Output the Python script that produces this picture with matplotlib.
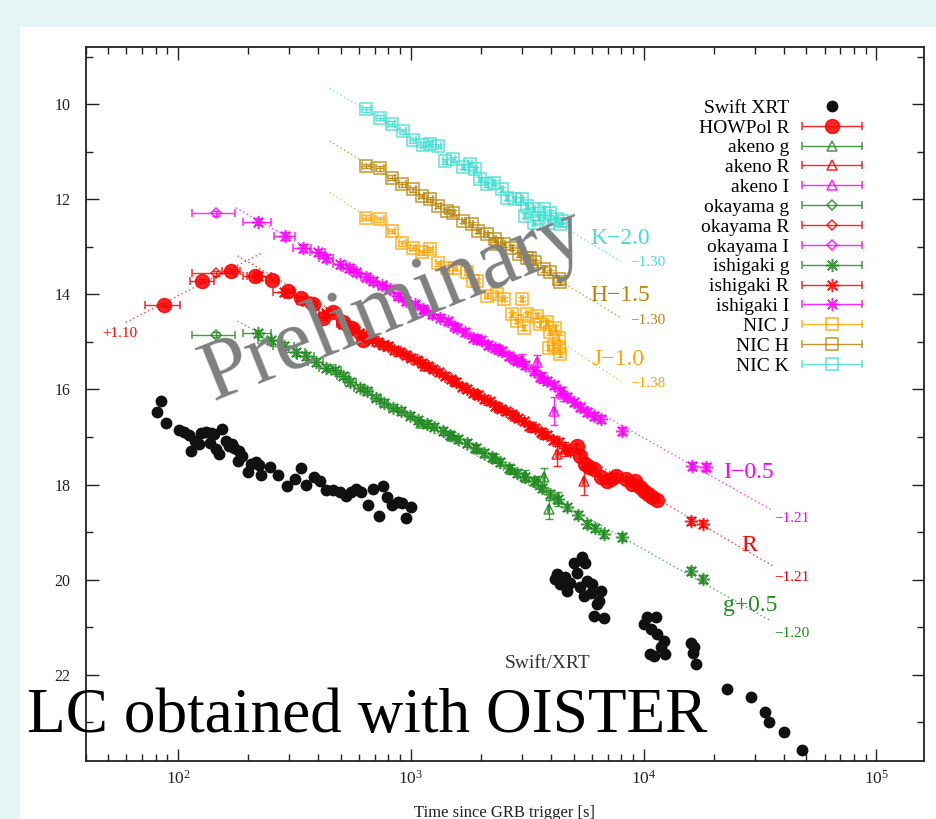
import matplotlib
matplotlib.use('Agg')
import matplotlib.pyplot as plt
import matplotlib.ticker as mticker
from matplotlib.patches import Rectangle
from matplotlib.legend_handler import HandlerErrorbar
from matplotlib.container import ErrorbarContainer

plt.rcParams['font.family'] = ['Liberation Serif', 'DejaVu Serif']
plt.rcParams['mathtext.fontset'] = 'stix'

# ---------------- data (time since trigger [s], magnitude) ----------------
xrt_t = [81.5, 84.8, 88.5, 101, 106, 111, 114, 118, 123, 125, 132, 138, 142, 137, 145, 150, 154, 161,
         166, 170, 174, 183, 180, 189, 199, 206, 216, 223, 227, 248, 268, 294, 319, 338, 355, 382, 408,
         433, 463, 494, 525, 555, 583, 613, 655, 684, 730, 755, 791, 826, 882, 912, 951, 1000,
         5445, 5012, 5623, 4246, 4613, 5176, 4385, 4842, 5716, 5346, 6012, 6535, 5534, 6310, 6109,
         6745, 4178, 4690, 5916, 6450,
         10375, 11272, 10020, 10715, 11455, 12240, 11840, 10650, 12300, 11060, 15960, 16490, 16220, 16760,
         22800, 28900, 33250, 34600, 40100, 47950]
xrt_m = [16.47, 16.24, 16.70, 16.86, 16.90, 16.95, 17.30, 17.08, 17.15, 16.92, 16.90, 16.92, 16.94, 17.13,
         17.25, 17.35, 16.83, 17.08, 17.18, 17.15, 17.22, 17.29, 17.50, 17.39, 17.74, 17.57, 17.52, 17.59,
         17.79, 17.63, 17.80, 18.03, 17.88, 17.65, 18.01, 17.85, 17.92, 18.11, 18.12, 18.16, 18.23, 18.15,
         18.09, 18.16, 18.42, 18.09, 18.67, 18.03, 18.27, 18.42, 18.37, 18.39, 18.71, 18.48,
         19.53, 19.64, 19.64, 19.88, 19.95, 19.85, 20.09, 20.06, 20.02, 20.16, 20.09, 20.23, 20.34, 20.51,
         20.76, 20.80, 19.99, 20.23, 20.27, 20.44,
         20.79, 20.79, 20.93, 21.04, 21.14, 21.28, 21.42, 21.56, 21.56, 21.60, 21.32, 21.42, 21.53, 21.77,
         22.29, 22.46, 22.77, 23.00, 23.21, 23.57]

howpol_R_t = [87.3, 127, 169, 213, 253, 296, 338, 379, 419, 463, 511, 560, 622,
              5180, 5346, 5623, 5800, 6100, 6535, 6930, 7270, 7640, 8430, 8930, 9150, 9630, 10020,
              10440, 10870, 11460]
howpol_R_m = [14.22, 13.72, 13.51, 13.61, 13.70, 13.93, 14.08, 14.20, 14.49, 14.38, 14.59, 14.70, 14.95,
              17.18, 17.39, 17.57, 17.63, 17.67, 17.85, 17.92, 17.88, 17.81, 17.88, 17.99, 17.92, 18.06,
              18.13, 18.20, 18.27, 18.33]

akeno_g_t = [1100, 1500, 1900, 2300, 2700, 3100, 3500, 3720, 3908, 4300]
akeno_g_m = [16.70, 16.97, 17.22, 17.45, 17.68, 17.82, 17.95, 17.85, 18.52, 18.30]
akeno_g_e = [0.06, 0.07, 0.08, 0.09, 0.10, 0.12, 0.14, 0.20, 0.20, 0.15]

akeno_R_t = [1150, 1550, 1950, 2400, 2800, 3300, 3700, 4246, 4600, 5534]
akeno_R_m = [15.50, 15.82, 16.10, 16.36, 16.56, 16.78, 16.92, 17.36, 17.25, 17.92]
akeno_R_e = [0.05, 0.06, 0.07, 0.08, 0.09, 0.10, 0.12, 0.25, 0.15, 0.30]

akeno_I_t = [1150, 1550, 1950, 2400, 2800, 3000, 3480, 3700, 4110, 4500]
akeno_I_m = [14.33, 14.66, 14.93, 15.15, 15.36, 15.38, 15.43, 15.75, 16.45, 16.10]
akeno_I_e = [0.05, 0.06, 0.07, 0.08, 0.09, 0.12, 0.15, 0.12, 0.30, 0.15]

okayama_g_t = [145]
okayama_g_m = [14.85]
okayama_R_t = [145]
okayama_R_m = [13.56]
okayama_I_t = [145]
okayama_I_m = [12.30]

ishigaki_g_t = [220, 250, 286, 320, 355, 390, 433, 470, 511, 550, 602, 650, 711, 770, 839, 910, 990,
                1070, 1169, 1260, 1377, 1472, 1600, 1738, 1900, 2051, 2230, 2421, 2640, 2856, 3100,
                3369, 3650, 3973, 4300, 4700, 5200, 5716, 6200, 6745, 8090, 16000, 17900]
ishigaki_g_m = [14.82, 14.97, 15.08, 15.22, 15.29, 15.42, 15.54, 15.60, 15.71, 15.84, 15.96, 16.03, 16.17,
                16.29, 16.38, 16.45, 16.55, 16.65, 16.73, 16.78, 16.87, 16.96, 17.05, 17.13, 17.24, 17.33,
                17.42, 17.52, 17.66, 17.75, 17.83, 17.92, 18.08, 18.20, 18.31, 18.48, 18.64, 18.83, 18.92,
                19.04, 19.10, 19.82, 19.99]

ishigaki_R_t = [220, 286, 355, 433, 511, 560, 600, 640, 680, 720, 760, 800, 850, 900, 950, 1000, 1060,
                1120, 1180, 1250, 1320, 1400, 1480, 1560, 1650, 1740, 1840, 1950, 2060, 2180, 2300, 2430,
                2570, 2720, 2880, 3050, 3230, 3420, 3620, 3840, 4070, 4310, 4570, 4840, 16000, 17900]
ishigaki_R_m = [13.62, 13.95, 14.15, 14.40, 14.62, 14.72, 14.82, 14.88, 14.95, 15.00, 15.06, 15.08,
                15.17, 15.21, 15.28, 15.33, 15.39, 15.45, 15.51, 15.57, 15.64, 15.71, 15.79, 15.84,
                15.94, 15.98, 16.08, 16.12, 16.20, 16.25, 16.34, 16.40, 16.46, 16.52, 16.61, 16.67,
                16.76, 16.80, 16.89, 16.95, 17.06, 17.11, 17.23, 17.29, 18.76, 18.82]

ishigaki_I_t = [220, 288, 343, 398, 433, 494, 540, 583, 640, 688, 750, 811, 880, 957, 1040, 1131, 1230,
                1334, 1450, 1574, 1700, 1857, 2000, 2150, 2300, 2450, 2650, 2856, 3100, 3369, 3600, 3845,
                4100, 4385, 4700, 5008, 5350, 5716, 6100, 6535, 8090, 16100, 18500]
ishigaki_I_m = [12.47, 12.77, 13.02, 13.12, 13.23, 13.37, 13.44, 13.54, 13.64, 13.72, 13.81, 13.89,
                14.03, 14.14, 14.21, 14.31, 14.41, 14.49, 14.57, 14.70, 14.79, 14.91, 14.97, 15.06,
                15.12, 15.19, 15.29, 15.40, 15.49, 15.61, 15.73, 15.82, 15.91, 16.03, 16.16, 16.27,
                16.37, 16.48, 16.56, 16.62, 16.87, 17.61, 17.63]

nic_J_t = [644, 735, 826, 920, 1024, 1112, 1208, 1312, 1426, 1548, 1738, 1857, 1920, 2119, 2339, 2500,
           3001, 2718, 2856, 3154, 3050, 3484, 3600, 3845, 3973, 4178, 3900, 4315, 4330, 4385, 4103]
nic_J_m = [12.39, 12.42, 12.67, 12.93, 13.02, 13.12, 13.05, 13.35, 13.44, 13.44, 13.54, 13.72, 13.72,
           14.03, 14.00, 14.10, 14.10, 14.42, 14.56, 14.42, 14.70, 14.45, 14.63, 14.59, 14.80, 14.70,
           15.12, 14.91, 15.12, 15.26, 15.08]

nic_H_t = [644, 735, 826, 920, 1024, 1112, 1208, 1312, 1426, 1522, 1680, 1827, 1951, 2119, 2300, 2339,
           2500, 2718, 2904, 3154, 3258, 3424, 3719, 3973, 4315, 4385]
nic_H_m = [11.30, 11.35, 11.55, 11.69, 11.79, 11.93, 12.00, 12.14, 12.25, 12.28, 12.46, 12.53, 12.67,
           12.74, 12.84, 12.95, 12.95, 13.02, 13.16, 13.23, 13.23, 13.33, 13.47, 13.54, 13.68, 13.75]

nic_K_t = [644, 735, 826, 927, 1024, 1131, 1208, 1312, 1403, 1522, 1680, 1795, 1888, 1983, 2119, 2264,
           2461, 2587, 2808, 3001, 3154, 3369, 3540, 3719, 3973, 4246, 3369, 3097, 3908, 4467, 4365]
nic_K_m = [10.11, 10.29, 10.41, 10.57, 10.76, 10.85, 10.83, 10.88, 11.20, 11.16, 11.32, 11.27, 11.37,
           11.58, 11.69, 11.65, 11.79, 11.97, 12.00, 12.00, 12.14, 12.21, 12.39, 12.21, 12.28, 12.42,
           12.49, 12.35, 12.49, 12.46, 12.52]

# exposure half-widths [s] and typical photometric errors [mag]
half_exposure = {'HOWPol': 15, 'akeno': 30, 'okayama': 30, 'ishigaki': 30, 'NIC': 30}
typical_err = {'HOWPol': 0.04, 'okayama': 0.05, 'ishigaki': 0.08, 'NIC': 0.05}

# power-law fits: (t_start, m_start, t_end, m_end)
fit_K = (448, 9.67, 7960, 13.30)
fit_H = (448, 10.78, 7960, 14.49)
fit_J = (448, 11.86, 7960, 15.82)
fit_I = (177, 12.18, 35900, 18.55)
fit_R = (180, 13.19, 35900, 19.71)
fit_R_rise = (59.6, 14.59, 231, 13.12)
fit_g = (180, 14.56, 34700, 20.85)

C_R, C_G, C_I = '#ff0000', '#228b22', '#ff00ff'
C_J, C_H, C_K = '#ffa500', '#b8860b', '#40e0d0'

# ---------------- figure ----------------
fig = plt.figure(figsize=(9.36, 8.19), dpi=100)
fig.patch.set_facecolor('#e4f5f5')
fig.patches.append(Rectangle((20 / 936, 0), 1, (819 - 27) / 819, transform=fig.transFigure,
                             facecolor='white', edgecolor='none', zorder=-10))
ax = fig.add_axes([85.5 / 936, 1 - 760.5 / 819, (924 - 85.5) / 936, (760.5 - 47) / 819])
ax.set_xscale('log')
ax.set_xlim(40, 1.6e5)
ax.set_ylim(23.8, 8.8)

# fit lines
for f, c in [(fit_K, C_K), (fit_H, C_H), (fit_J, C_J), (fit_I, C_I), (fit_R, C_R),
             (fit_R_rise, C_R), (fit_g, C_G)]:
    ax.plot([f[0], f[2]], [f[1], f[3]], color=c, lw=1.0, ls=(0, (1, 2)), alpha=0.75, zorder=1)

# Swift XRT
ax.plot(xrt_t, xrt_m, 'o', color='#111111', ms=7.5, mec='#111111', label='Swift XRT', zorder=5)


def series(t, m, inst, marker, color, label, ms=6, filled=False, yerr=None):
    xe = half_exposure[inst]
    kw = dict(fmt='', marker=marker, linestyle='none', color=color, ecolor=color, elinewidth=1.0,
              capsize=3, ms=ms, mew=1.1, label=label, zorder=4, alpha=0.85)
    if not filled:
        kw['mfc'] = 'none'
    ax.errorbar(t, m, xerr=[xe] * len(t), **kw)
    ye = yerr if yerr is not None else [typical_err[inst]] * len(t)
    ax.errorbar(t, m, yerr=ye, fmt='none', ecolor=color, elinewidth=1.0, capsize=3, alpha=0.85,
                zorder=4)


star = (8, 2, 0)
series(howpol_R_t, howpol_R_m, 'HOWPol', 'o', C_R, 'HOWPol R', ms=10, filled=True)
series(akeno_g_t, akeno_g_m, 'akeno', '^', C_G, 'akeno g', ms=6.5, yerr=akeno_g_e)
series(akeno_R_t, akeno_R_m, 'akeno', '^', C_R, 'akeno R', ms=6.5, yerr=akeno_R_e)
series(akeno_I_t, akeno_I_m, 'akeno', '^', C_I, 'akeno I', ms=6.5, yerr=akeno_I_e)
series(okayama_g_t, okayama_g_m, 'okayama', 'D', C_G, 'okayama g', ms=5)
series(okayama_R_t, okayama_R_m, 'okayama', 'D', C_R, 'okayama R', ms=5)
series(okayama_I_t, okayama_I_m, 'okayama', 'D', C_I, 'okayama I', ms=5)
series(ishigaki_g_t, ishigaki_g_m, 'ishigaki', star, C_G, 'ishigaki g', ms=9.5)
series(ishigaki_R_t, ishigaki_R_m, 'ishigaki', star, C_R, 'ishigaki R', ms=9.5)
series(ishigaki_I_t, ishigaki_I_m, 'ishigaki', star, C_I, 'ishigaki I', ms=9.5)
series(nic_J_t, nic_J_m, 'NIC', 's', C_J, 'NIC J', ms=8.5)
series(nic_H_t, nic_H_m, 'NIC', 's', C_H, 'NIC H', ms=8.5)
series(nic_K_t, nic_K_m, 'NIC', 's', C_K, 'NIC K', ms=8.5)

# axes styling
for s in ax.spines.values():
    s.set_linewidth(1.3)
    s.set_color('#222222')
ax.xaxis.set_major_locator(mticker.LogLocator(base=10, numticks=10))
ax.xaxis.set_minor_locator(mticker.LogLocator(base=10, subs=range(2, 10), numticks=20))
ax.xaxis.set_minor_formatter(mticker.NullFormatter())
ax.yaxis.set_major_locator(mticker.MultipleLocator(2))
ax.yaxis.set_minor_locator(mticker.MultipleLocator(1))
ax.tick_params(which='both', direction='in', top=True, right=True, colors='#222222')
ax.tick_params(which='major', length=9, width=1.0)
ax.tick_params(which='minor', length=5, width=1.0)
ax.tick_params(axis='y', pad=11, labelsize=11.5)
ax.tick_params(axis='x', pad=7, labelsize=12.5)
ax.set_xlabel('Time since GRB trigger [s]', fontsize=12, labelpad=12, color='#222222')

# legend
leg = ax.legend(loc='upper right', bbox_to_anchor=(0.926, 0.927), frameon=False, markerfirst=False,
                numpoints=1, fontsize=14, labelspacing=0.115, handlelength=3.1, handletextpad=0.65,
                borderpad=0, borderaxespad=0,
                handler_map={ErrorbarContainer: HandlerErrorbar(xerr_size=1.55)})

# annotations
big = [('K−2.0', 5916, 12.82, C_K), ('H−1.5', 5916, 14.03, C_H), ('J−1.0', 6040, 15.36, C_J),
       ('I−0.5', 21900, 17.75, C_I), ('R', 26200, 19.29, C_R), ('g+0.5', 21900, 20.55, C_G)]
for s, t, m, c in big:
    ax.text(t, m, s, color=c, fontsize=17, ha='left', va='center', zorder=6)
small = [('−1.30', 8790, 13.34, C_K), ('−1.30', 8790, 14.54, C_H), ('−1.38', 8790, 15.88, C_J),
         ('−1.21', 36300, 18.72, C_I), ('−1.21', 36300, 19.96, C_R), ('−1.20', 36300, 21.13, C_G),
         ('+1.10', 47, 14.83, C_R)]
for s, t, m, c in small:
    ax.text(t, m, s, color=c, fontsize=11, ha='left', va='center', zorder=6)
ax.text(2540, 21.76, 'Swift/XRT', color='#333333', fontsize=14, ha='left', va='center', zorder=6)

fig.text(402 / 936, 1 - 325 / 819, 'Preliminary', color='#808080', fontsize=62, rotation=22,
         rotation_mode='anchor', ha='center', va='baseline', zorder=20)
fig.text(27 / 936, 1 - 732 / 819, 'LC obtained with OISTER', color='black', fontsize=45.5,
         ha='left', va='baseline', zorder=20)

fig.savefig('out.png', dpi=100, facecolor=fig.get_facecolor())
